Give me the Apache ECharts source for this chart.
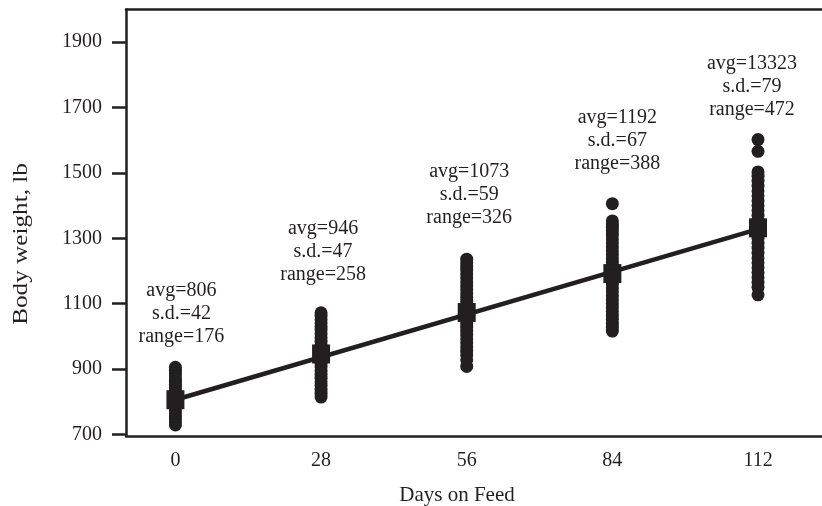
<!DOCTYPE html>
<html><head><meta charset="utf-8">
<script src="https://cdn.jsdelivr.net/npm/echarts@6/dist/echarts.min.js"></script>
<style>html,body{margin:0;padding:0;background:#fff}#c{width:822px;height:506px}</style>
</head><body><div id="c"></div>
<script>
const days = [0, 28, 56, 84, 112];
const yTicks = [700, 900, 1100, 1300, 1500, 1700, 1900];
const weightsDay0 = [729, 738, 748, 757, 766, 775, 784, 792, 800, 806, 812, 820, 828, 836, 845, 853, 862, 870, 879, 888, 896, 905];
const weightsDay28 = [814, 826, 838, 850, 861, 872, 884, 895, 906, 917, 928, 938, 946, 954, 963, 974, 985, 996, 1008, 1019, 1030, 1041, 1051, 1062, 1072];
const weightsDay56 = [908, 928, 943, 955, 968, 980, 992, 1004, 1016, 1028, 1040, 1052, 1063, 1073, 1083, 1095, 1107, 1119, 1131, 1143, 1155, 1167, 1179, 1191, 1203, 1214, 1225, 1236];
const weightsDay84 = [1016, 1028, 1040, 1052, 1064, 1076, 1088, 1100, 1112, 1124, 1136, 1148, 1160, 1172, 1182, 1192, 1202, 1214, 1226, 1238, 1250, 1262, 1274, 1286, 1298, 1310, 1322, 1334, 1344, 1353, 1406];
const weightsDay112 = [1127, 1150, 1165, 1180, 1195, 1210, 1225, 1240, 1255, 1270, 1285, 1300, 1315, 1325, 1332, 1340, 1355, 1370, 1385, 1400, 1415, 1430, 1445, 1460, 1475, 1490, 1503, 1566, 1602];
const avgValues = [806, 946, 1073, 1192, 1332];
const avgLabels = ['806', '946', '1073', '1192', '13323'];
const sdLabels = ['42', '47', '59', '67', '79'];
const rangeLabels = ['176', '258', '326', '388', '472'];
const fitLine = [[0, 806], [112, 1328]];
const labelAnchorY = [1068, 1260, 1432, 1597, 1765];
const labelOffsetX = [6, 2, 2.5, 5, -6];

const ink = '#231f20';
const serif = 'Liberation Serif';
const allWeights = [weightsDay0, weightsDay28, weightsDay56, weightsDay84, weightsDay112];

const series = [];
allWeights.forEach((ws, i) => {
  series.push({
    type: 'scatter', symbol: 'circle', symbolSize: 13,
    itemStyle: { color: ink, opacity: 1 }, silent: true, z: 2,
    data: ws.map(w => [days[i], w])
  });
});
series.push({
  type: 'scatter', symbol: 'rect', symbolSize: [18, 19],
  itemStyle: { color: ink, opacity: 1 }, silent: true, z: 3,
  data: days.map((d, i) => [d, avgValues[i]])
});
series.push({
  type: 'line', data: fitLine, symbol: 'none', silent: true, z: 4,
  lineStyle: { color: ink, width: 4.5, opacity: 1 }
});
series.push({
  type: 'scatter', symbolSize: 1, silent: true, z: 5,
  itemStyle: { color: '#ffffff', opacity: 0 },
  data: days.map((d, i) => ({
    value: [d, labelAnchorY[i]],
    label: {
      offset: [labelOffsetX[i], 0],
      formatter: 'avg=' + avgLabels[i] + '\ns.d.=' + sdLabels[i] + '\nrange=' + rangeLabels[i]
    }
  })),
  label: {
    show: true, position: 'inside', align: 'center', verticalAlign: 'middle', opacity: 1,
    fontFamily: serif, fontSize: 20, lineHeight: 23, color: ink, textBorderWidth: 0
  }
});

const chart = echarts.init(document.getElementById('c'), null, { renderer: 'canvas' });
chart.setOption({
  animation: false,
  backgroundColor: '#fff',
  grid: { left: 126, right: 0, top: 9.5, bottom: 70 },
  xAxis: [{
    type: 'value', min: -9.5, max: 124.3, position: 'bottom',
    axisLine: { show: true, onZero: false, lineStyle: { color: ink, width: 2.5 } },
    axisTick: { show: false },
    splitLine: { show: false },
    axisLabel: { customValues: days, margin: 15, fontFamily: serif, fontSize: 20, color: ink }
  }, {
    type: 'value', min: -9.5, max: 124.3, position: 'top',
    axisLine: { show: true, onZero: false, lineStyle: { color: ink, width: 2.5 } },
    axisTick: { show: false }, axisLabel: { show: false }, splitLine: { show: false }
  }],
  yAxis: {
    type: 'value', min: 695, max: 2000,
    axisLine: { show: true, onZero: false, lineStyle: { color: ink, width: 2.5 } },
    axisTick: { show: true, customValues: yTicks, length: 14, lineStyle: { color: ink, width: 2.5 } },
    splitLine: { show: false },
    axisLabel: { customValues: yTicks, margin: 24, fontFamily: serif, fontSize: 20, color: ink, formatter: v => String(v) }
  },
  graphic: [
    { type: 'text', x: 457, y: 495, style: { text: 'Days on Feed', font: '21px "Liberation Serif"', fill: ink, align: 'center', verticalAlign: 'middle' } },
    { type: 'text', x: 21, y: 244, rotation: Math.PI / 2, scaleX: 1.2, style: { text: 'Body weight, lb', font: '21px "Liberation Serif"', fill: ink, align: 'center', verticalAlign: 'middle' } }
  ],
  series: series
});
</script></body></html>
